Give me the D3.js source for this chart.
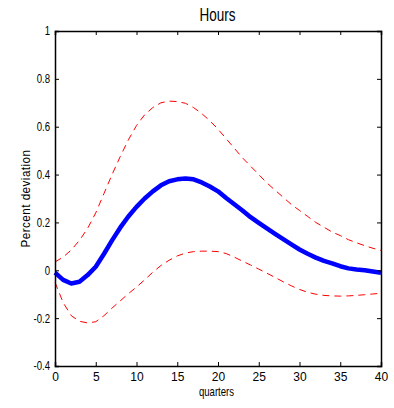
<!DOCTYPE html>
<html>
<head>
<meta charset="utf-8">
<script src="https://cdn.jsdelivr.net/npm/d3@7"></script>
<style>
html,body{margin:0;padding:0;background:#fff;}
svg{display:block;}
text{font-family:"Liberation Sans",Arial,sans-serif;fill:#000;}
</style>
</head>
<body>
<svg id="chart" width="394" height="408"></svg>
<script>
const quarters = d3.range(0, 41);
const meanResponse = [-0.01,-0.04,-0.055,-0.048,-0.02,0.015,0.068,0.125,0.178,0.225,0.265,0.30,0.33,0.355,0.372,0.38,0.384,0.38,0.367,0.35,0.33,0.302,0.276,0.25,0.222,0.198,0.175,0.152,0.13,0.108,0.087,0.069,0.053,0.039,0.029,0.017,0.008,0.003,0.0,-0.005,-0.01];
const upperBand = [0.035,0.055,0.085,0.125,0.175,0.24,0.32,0.40,0.475,0.545,0.605,0.65,0.68,0.70,0.707,0.705,0.698,0.68,0.655,0.625,0.59,0.55,0.51,0.47,0.435,0.40,0.365,0.335,0.305,0.275,0.25,0.225,0.20,0.18,0.16,0.145,0.128,0.115,0.103,0.092,0.083];
const lowerBand = [-0.05,-0.135,-0.19,-0.213,-0.22,-0.215,-0.19,-0.158,-0.128,-0.098,-0.07,-0.04,-0.008,0.02,0.042,0.06,0.072,0.078,0.08,0.08,0.078,0.07,0.055,0.038,0.022,0.005,-0.012,-0.03,-0.048,-0.065,-0.08,-0.092,-0.1,-0.105,-0.107,-0.108,-0.107,-0.105,-0.102,-0.099,-0.096];
const xTicks = [0,5,10,15,20,25,30,35,40];
const yTicks = [-0.4,-0.2,0,0.2,0.4,0.6,0.8,1];
const yTickLabels = ["-0.4","-0.2","0","0.2","0.4","0.6","0.8","1"];

const svg = d3.select("#chart");
const L = 55, R = 381, T = 31, B = 366;
const x = d3.scaleLinear().domain([0,40]).range([L,R]);
const y = d3.scaleLinear().domain([-0.4,1]).range([B,T]);

const line = d3.line().x((d,i)=>x(quarters[i])).y(d=>y(d));

svg.append("path").datum(upperBand).attr("d",line)
  .attr("fill","none").attr("stroke","#ff0000").attr("stroke-width",1).attr("stroke-dasharray","7,5");
svg.append("path").datum(lowerBand).attr("d",line)
  .attr("fill","none").attr("stroke","#ff0000").attr("stroke-width",1).attr("stroke-dasharray","7,5");
svg.append("path").datum(meanResponse).attr("d",line)
  .attr("fill","none").attr("stroke","#0000ff").attr("stroke-width",4.5).attr("stroke-linejoin","round");

// axes (MATLAB box style with inward ticks)
const axBottom = svg.append("g").attr("transform",`translate(0,${B})`)
  .call(d3.axisBottom(x).tickValues(xTicks).tickSize(-4).tickPadding(8).tickFormat(d3.format("d")));
const axTop = svg.append("g").attr("transform",`translate(0,${T})`)
  .call(d3.axisTop(x).tickValues(xTicks).tickSize(-4).tickFormat(""));
const axLeft = svg.append("g").attr("transform",`translate(${L},0)`)
  .call(d3.axisLeft(y).tickValues(yTicks).tickSize(-4).tickPadding(6).tickFormat((d,i)=>yTickLabels[i]));
const axRight = svg.append("g").attr("transform",`translate(${R},0)`)
  .call(d3.axisRight(y).tickValues(yTicks).tickSize(-4).tickFormat(""));
[axBottom,axTop,axLeft,axRight].forEach(g=>{
  g.select(".domain").attr("stroke","#000").attr("stroke-width",1.5);
  g.selectAll(".tick line").attr("stroke","#000");
  g.selectAll("text").attr("font-family","Liberation Sans, Arial, sans-serif").attr("font-size",12).attr("fill","#000");
});
axBottom.selectAll("text").attr("dy","0.55em");
axLeft.selectAll(".tick text").attr("x",0).attr("dy","0.3em")
  .attr("transform","translate(-5,0) scale(0.8,1.1)");

svg.append("text").attr("transform","translate(217.5,21) scale(0.9,1.25)").attr("text-anchor","middle")
  .attr("font-size",15).text("Hours");
svg.append("text").attr("transform","translate(216.5,396) scale(0.8,1.05)").attr("text-anchor","middle")
  .attr("font-size",12).text("quarters");
svg.append("text").attr("transform","translate(30,198.5) rotate(-90) scale(0.9,1)").attr("text-anchor","middle")
  .attr("font-size",13).attr("letter-spacing","0.5").text("Percent deviation");
</script>
</body>
</html>
